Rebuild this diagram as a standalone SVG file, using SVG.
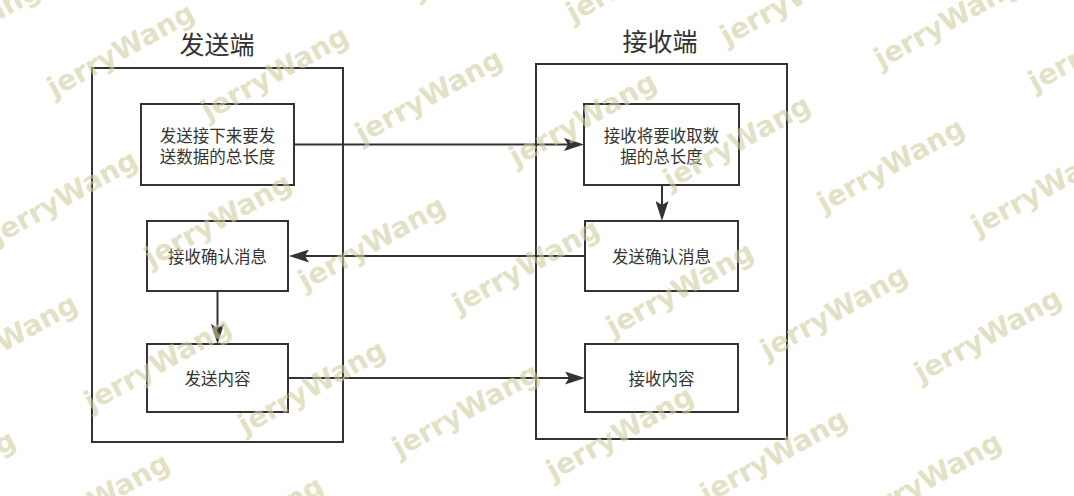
<svg xmlns="http://www.w3.org/2000/svg" width="1074" height="496" viewBox="0 0 1074 496">
<style>
.frame{fill:#fff;stroke:#333;stroke-width:2}
.box{fill:#fff;stroke:#333;stroke-width:2}
.lbl{font-family:"Noto Sans CJK SC","Noto Sans",sans-serif;font-size:16.5px;fill:#333;text-anchor:middle}
.ttl{font-family:"Noto Sans CJK SC","Noto Sans",sans-serif;font-size:25px;fill:#333;text-anchor:middle}
.conn{fill:none;stroke:#333;stroke-width:2;marker-end:url(#arr)}
.wm{font-family:"DejaVu Sans",sans-serif;font-weight:bold;font-size:28px;fill:#cfcd9f;fill-opacity:0.6;text-anchor:middle}
</style>
<defs>
<marker id="arr" markerUnits="userSpaceOnUse" markerWidth="20" markerHeight="13" viewBox="0 0 20 13" refX="10" refY="6.5" orient="auto">
<path d="M0,0 L20,6.5 L0,13 L4,6.5 Z" fill="#333"/>
</marker>
</defs>
<rect width="1074" height="496" fill="#fff"/>
<g id="sender">
<text class="ttl" x="217" y="54">发送端</text>
<rect class="frame" x="92" y="68" width="251" height="374"/>
</g>
<g id="receiver">
<text class="ttl" x="660" y="51">接收端</text>
<rect class="frame" x="536" y="64" width="251" height="375"/>
</g>
<g id="send-length">
<rect class="box" x="141" y="104" width="153" height="81"/>
<text class="lbl" x="217.5" y="141.5">发送接下来要发<tspan x="217.5" dy="21">送数据的总长度</tspan></text>
</g>
<g id="recv-ack">
<rect class="box" x="147" y="221" width="141" height="70"/>
<text class="lbl" x="217.5" y="262.5">接收确认消息</text>
</g>
<g id="send-content">
<rect class="box" x="147" y="344" width="141" height="68"/>
<text class="lbl" x="217.5" y="385">发送内容</text>
</g>
<g id="recv-length">
<rect class="box" x="584" y="104" width="155" height="81"/>
<text class="lbl" x="661.5" y="141.5">接收将要收取数<tspan x="661.5" dy="21">据的总长度</tspan></text>
</g>
<g id="send-ack">
<rect class="box" x="585" y="221" width="153" height="70"/>
<text class="lbl" x="661.5" y="262.5">发送确认消息</text>
</g>
<g id="recv-content">
<rect class="box" x="585" y="344" width="153" height="68"/>
<text class="lbl" x="661.5" y="385">接收内容</text>
</g>
<g id="connectors">
<line class="conn" x1="294" y1="144.5" x2="574" y2="144.5"/>
<line class="conn" x1="585" y1="256" x2="299" y2="256"/>
<line class="conn" x1="288" y1="378" x2="575" y2="378"/>
<line class="conn" x1="217.5" y1="291" x2="217.5" y2="334"/>
<line class="conn" x1="662" y1="185" x2="662" y2="211"/>
</g>
<g id="watermark">
<text class="wm" transform="translate(334 -67) rotate(-29)" y="5">jerryWang</text>
<text class="wm" transform="translate(488 -44) rotate(-29)" y="5">jerryWang</text>
<text class="wm" transform="translate(642 -21) rotate(-29)" y="5">jerryWang</text>
<text class="wm" transform="translate(796 2) rotate(-29)" y="5">jerryWang</text>
<text class="wm" transform="translate(950 25) rotate(-29)" y="5">jerryWang</text>
<text class="wm" transform="translate(1104 48) rotate(-29)" y="5">jerryWang</text>
<text class="wm" transform="translate(-31 31) rotate(-29)" y="5">jerryWang</text>
<text class="wm" transform="translate(123 54) rotate(-29)" y="5">jerryWang</text>
<text class="wm" transform="translate(277 77) rotate(-29)" y="5">jerryWang</text>
<text class="wm" transform="translate(431 100) rotate(-29)" y="5">jerryWang</text>
<text class="wm" transform="translate(585 123) rotate(-29)" y="5">jerryWang</text>
<text class="wm" transform="translate(739 146) rotate(-29)" y="5">jerryWang</text>
<text class="wm" transform="translate(893 169) rotate(-29)" y="5">jerryWang</text>
<text class="wm" transform="translate(1047 192) rotate(-29)" y="5">jerryWang</text>
<text class="wm" transform="translate(66 201) rotate(-29)" y="5">jerryWang</text>
<text class="wm" transform="translate(220 224) rotate(-29)" y="5">jerryWang</text>
<text class="wm" transform="translate(374 247) rotate(-29)" y="5">jerryWang</text>
<text class="wm" transform="translate(528 270) rotate(-29)" y="5">jerryWang</text>
<text class="wm" transform="translate(682 293) rotate(-29)" y="5">jerryWang</text>
<text class="wm" transform="translate(836 316) rotate(-29)" y="5">jerryWang</text>
<text class="wm" transform="translate(990 339) rotate(-29)" y="5">jerryWang</text>
<text class="wm" transform="translate(6 345) rotate(-29)" y="5">jerryWang</text>
<text class="wm" transform="translate(160 368) rotate(-29)" y="5">jerryWang</text>
<text class="wm" transform="translate(314 391) rotate(-29)" y="5">jerryWang</text>
<text class="wm" transform="translate(468 414) rotate(-29)" y="5">jerryWang</text>
<text class="wm" transform="translate(622 437) rotate(-29)" y="5">jerryWang</text>
<text class="wm" transform="translate(776 460) rotate(-29)" y="5">jerryWang</text>
<text class="wm" transform="translate(930 483) rotate(-29)" y="5">jerryWang</text>
<text class="wm" transform="translate(-56 481) rotate(-29)" y="5">jerryWang</text>
<text class="wm" transform="translate(98 504) rotate(-29)" y="5">jerryWang</text>
<text class="wm" transform="translate(252 527) rotate(-29)" y="5">jerryWang</text>
</g>
</svg>
